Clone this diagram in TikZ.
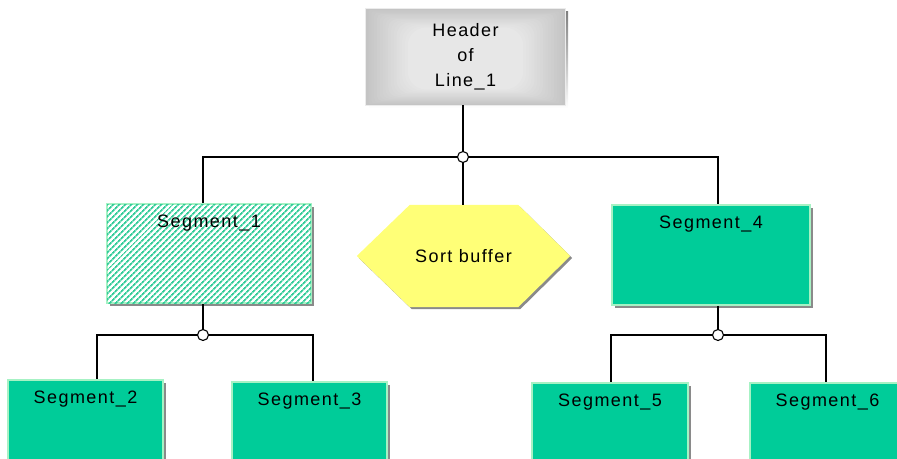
\documentclass[tikz,border=0pt]{standalone}
\usepackage{fontspec}
\setmainfont{Liberation Sans}[LetterSpace=8]
\usetikzlibrary{patterns.meta,backgrounds,shadows}

\definecolor{segfill}{HTML}{00CC99}
\definecolor{segedge}{HTML}{A6F2C4}
\definecolor{hatch}{HTML}{33CC99}
\definecolor{shade}{HTML}{8A8A8A}
\definecolor{bufferfill}{HTML}{FFFF77}

\tikzset{
  boxshadow/.style={drop shadow={shadow xshift=3pt, shadow yshift=-3pt, fill=shade, opacity=1}},
  seg/.style={rectangle, inner sep=0pt, fill=segfill, draw=segedge, line width=1.5pt, boxshadow},
  hatched/.style={fill=white, postaction={pattern={Lines[angle=45, distance=4pt, line width=1.9pt]}, pattern color=hatch}},
  segtitle/.style={anchor=base, yshift=-24pt, inner sep=0pt},
  wire/.style={line width=1.5pt, black},
  joint/.style={circle, draw=black, fill=white, line width=1.1pt, minimum size=11pt, inner sep=0pt},
}

\begin{document}
\begin{tikzpicture}[x=1pt, y=-1pt, font=\fontsize{18pt}{25pt}\selectfont]
  \useasboundingbox (0,0) rectangle (897,458);
  \clip (0,0) rectangle (897,458);

  % header box (soft gradient drawn on the background layer)
  \node[rectangle, inner sep=0pt, minimum width=199pt, minimum height=96pt, align=center] (head) at (465.5,57) {Header\\of\\Line\_1};
  \begin{scope}[on background layer]
    \fill[shade] ([shift={(3pt,-3pt)}]head.north west) rectangle ([shift={(3pt,-3pt)}]head.south east);
    \foreach \i in {0,...,15} {
      \pgfmathsetmacro{\tone}{46-1.8*\i}
      \fill[gray!\tone!white, rounded corners=1.2*\i pt]
        ([shift={(2.8*\i pt,-1.25*\i pt)}]head.north west) rectangle ([shift={(-2.8*\i pt,1.05*\i pt)}]head.south east);
    }
    \draw[gray!15!white, line width=1pt] (head.north west) rectangle (head.south east);
  \end{scope}

  % first level
  \node[seg, hatched, minimum width=204pt, minimum height=99pt, label={[segtitle]north:Segment\_1}] (seg1) at (209,253.5) {};
  \node[rectangle, inner sep=0pt, minimum width=213pt, minimum height=102pt] (sort) at (463.5,256) {Sort buffer};
  \begin{scope}[on background layer]
    \fill[bufferfill, drop shadow={shadow xshift=2pt, shadow yshift=-2pt, fill=shade, opacity=1}]
      (sort.west) -- ([xshift=53pt]sort.north west) -- ([xshift=-52pt]sort.north east)
      -- (sort.east) -- ([xshift=-52pt]sort.south east) -- ([xshift=53pt]sort.south west) -- cycle;
  \end{scope}
  \node[seg, minimum width=198pt, minimum height=100pt, label={[segtitle]north:Segment\_4}] (seg4) at (711,255) {};

  % second level
  \node[seg, minimum width=155pt, minimum height=90pt, label={[segtitle]north:Segment\_2}] (seg2) at (85.5,425) {};
  \node[seg, minimum width=155pt, minimum height=90pt, label={[segtitle]north:Segment\_3}] (seg3) at (309.5,427) {};
  \node[seg, minimum width=156pt, minimum height=90pt, label={[segtitle]north:Segment\_5}] (seg5) at (610,428) {};
  \node[seg, minimum width=155pt, minimum height=90pt, label={[segtitle]north:Segment\_6}] (seg6) at (827.5,428) {};

  % junctions
  \node[joint] (j0) at (463,157) {};
  \node[joint] (j1) at (203,335) {};
  \node[joint] (j2) at (718,335) {};
  \coordinate (d2) at (97,335);
  \coordinate (d3) at (313,335);
  \coordinate (d5) at (611,335);
  \coordinate (d6) at (826,335);

  % connectors
  \draw[wire] (head.south -| j0) -- (j0);
  \draw[wire] (j0) -| (seg1.north -| j1);
  \draw[wire] (j0) -- (sort.north -| j0);
  \draw[wire] (j0) -| (seg4.north -| j2);
  \draw[wire] (seg1.south -| j1) -- (j1);
  \draw[wire] (j1) -- (d2) -- (seg2.north -| d2);
  \draw[wire] (j1) -- (d3) -- (seg3.north -| d3);
  \draw[wire] (seg4.south -| j2) -- (j2);
  \draw[wire] (j2) -- (d5) -- (seg5.north -| d5);
  \draw[wire] (j2) -- (d6) -- (seg6.north -| d6);
\end{tikzpicture}
\end{document}
